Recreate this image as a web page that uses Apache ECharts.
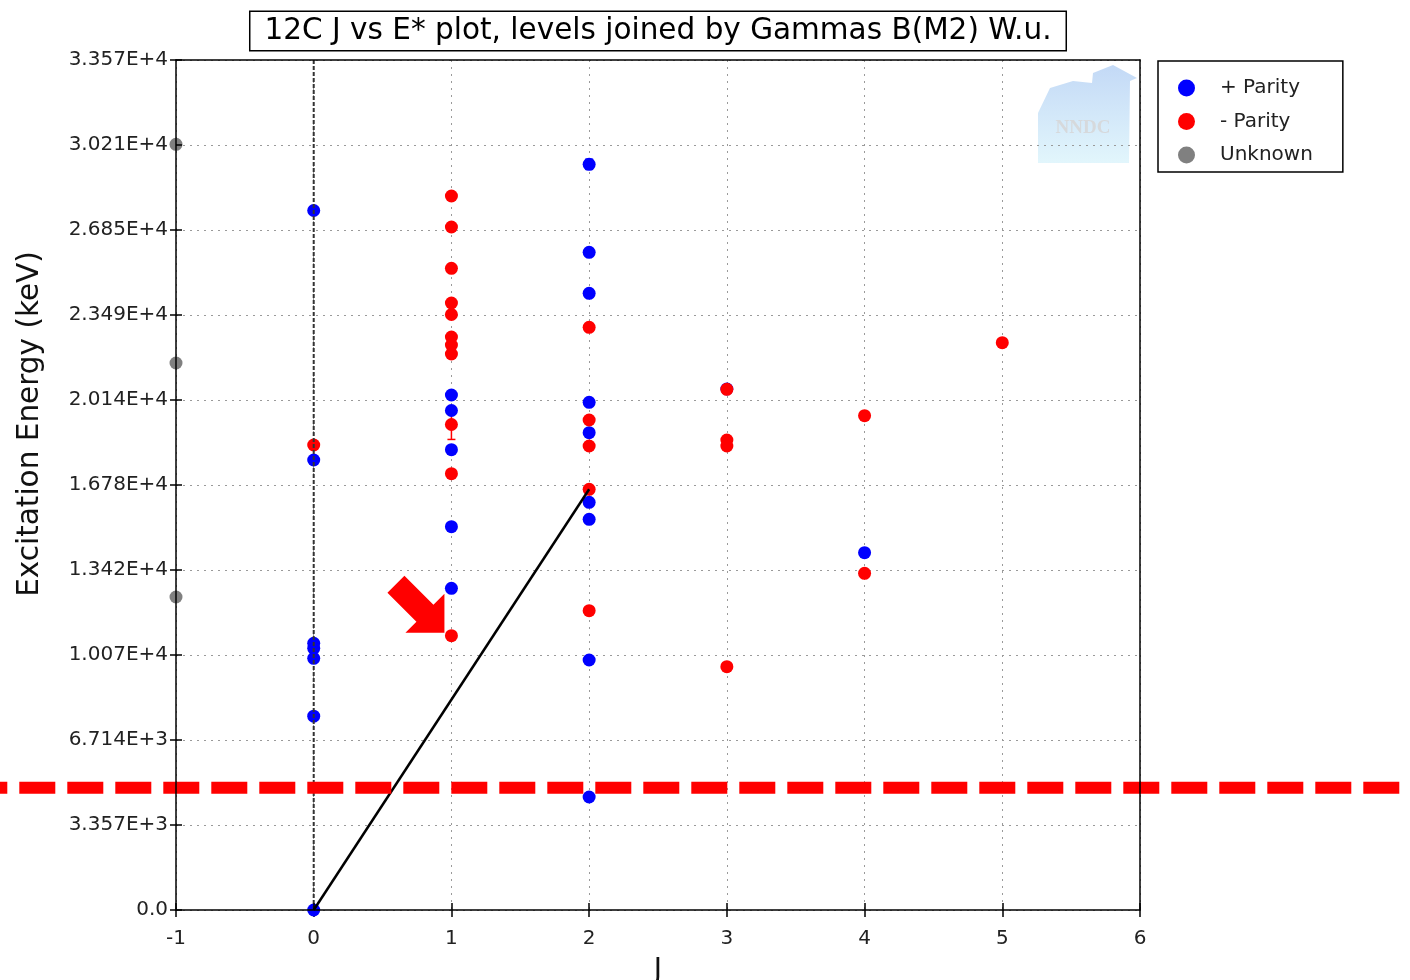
<!DOCTYPE html>
<html>
<head>
<meta charset="utf-8">
<title>12C J vs E* plot</title>
<script src="https://cdn.jsdelivr.net/npm/echarts@6/dist/echarts.min.js"></script>
<style>
  html, body { margin: 0; padding: 0; background: #fff; width: 1410px; height: 980px; overflow: hidden; }
  #chart { width: 1410px; height: 980px; }
</style>
</head>
<body>
<div id="chart"></div>
<script>
// Level scheme of 12C: spin J against excitation energy (keV)
const TITLE = '12C J vs E* plot, levels joined by Gammas B(M2) W.u.';

// positive-parity levels
const plusJ = [0, 0, 0, 0, 0, 0, 0, 1, 1, 1, 1, 1, 2, 2, 2, 2, 2, 2, 2, 2, 2, 3, 4];
const plusE = [0, 7654, 9941, 10336, 10533, 17772, 27626,
               20339, 19727, 18179, 15138, 12705,
               29450, 25975, 24356, 20051, 18851, 16102, 15430, 9874, 4463,
               20577, 14111];

// negative-parity levels
const minusJ = [0, 1, 1, 1, 1, 1, 1, 1, 1, 1, 1, 1, 2, 2, 2, 2, 2, 3, 3, 3, 3, 4, 4, 5];
const minusE = [18365,
                28199, 26974, 25343, 23973, 23519, 22630, 22315, 21959, 19174, 17231, 10833,
                23013, 19352, 18325, 16615, 11821,
                20565, 18562, 18325, 9609,
                19522, 13298,
                22405];

// levels with unknown J and parity
const unknownJ = [-1, -1, -1];
const unknownE = [30241, 21603, 12362];

// energy uncertainties drawn as error bars
const errJ = [1, 1, 2];
const errE = [19174, 26974, 29450];
const errDelta = [590, 120, 200];
const errParity = ['-', '-', '+'];

// M2 gamma joining two levels: [J, E] of initial and final level
const gammaFrom = [2, 16615];
const gammaTo = [0, 0];

// particle threshold marker (keV) and the level it points to
const thresholdE = 4830;
const markedLevel = [1, 10833];

// axis ticks
const yStep = 3357;
const yTickLabels = ['0.0', '3.357E+3', '6.714E+3', '1.007E+4', '1.342E+4', '1.678E+4',
                     '2.014E+4', '2.349E+4', '2.685E+4', '3.021E+4', '3.357E+4'];
const xMin = -1, xMax = 6;

const FONT = '"DejaVu Sans", sans-serif';
const BLUE = '#0000ff', RED = '#ff0000', GREY = '#808080';
const GRID = { left: 176, top: 60, width: 964, height: 850, outerBoundsMode: 'none', containLabel: false };

const pairs = (js, es) => js.map((j, i) => [j, es[i]]);

const chart = echarts.init(document.getElementById('chart'), null, { renderer: 'canvas', width: 1410, height: 980 });

const frameLine = { color: '#000', width: 1.5 };
const gridDots = { color: '#9a9a9a', width: 1, type: [2, 5] };
const dot = (color) => ({ color: color, opacity: 1 });
const yRange = { type: 'value', min: 0, max: yStep * 10, interval: yStep };
const xRange = { type: 'value', min: xMin, max: xMax, interval: 1 };

chart.setOption({
  backgroundColor: '#fff',
  animation: false,
  grid: GRID,
  legend: {
    orient: 'vertical',
    left: 1158,
    top: 61,
    data: ['+ Parity', '- Parity', 'Unknown'],
    icon: 'circle',
    itemWidth: 17,
    itemHeight: 17,
    itemGap: 13.5,
    padding: [17, 30, 7, 20],
    borderColor: '#000',
    borderWidth: 1.5,
    selectedMode: false,
    textStyle: { fontSize: 20, color: '#222', fontFamily: FONT, padding: [0, 0, 0, 20] }
  },
  xAxis: [
    {
      // labels, outer ticks and dotted grid, kept under the marks
      ...xRange, position: 'bottom', z: 0,
      axisLine: { show: false, onZero: false },
      axisTick: { show: true, length: 7, lineStyle: frameLine },
      axisLabel: { fontSize: 20, color: '#222', fontFamily: FONT, margin: 19 },
      splitLine: { show: true, lineStyle: gridDots },
      name: 'J', nameLocation: 'middle', nameGap: 47,
      nameTextStyle: { fontSize: 28, color: '#111', fontFamily: FONT }
    },
    {
      // frame line and inner ticks, drawn on top
      ...xRange, position: 'bottom', z: 20,
      axisLine: { show: true, onZero: false, lineStyle: frameLine },
      axisTick: { show: true, inside: true, length: 7, lineStyle: frameLine },
      axisLabel: { show: false }, splitLine: { show: false }
    },
    {
      ...xRange, position: 'top', z: 20,
      axisLine: { show: true, onZero: false, lineStyle: frameLine },
      axisTick: { show: false }, axisLabel: { show: false }, splitLine: { show: false }
    }
  ],
  yAxis: [
    {
      ...yRange, position: 'left', z: 0,
      axisLine: { show: false, onZero: false },
      axisTick: { show: true, length: 6, lineStyle: frameLine },
      axisLabel: {
        fontSize: 20, color: '#222', fontFamily: FONT, margin: 8,
        formatter: v => yTickLabels[Math.round(v / yStep)]
      },
      splitLine: { show: true, lineStyle: gridDots }
    },
    {
      ...yRange, position: 'left', z: 20,
      axisLine: { show: true, onZero: false, lineStyle: frameLine },
      axisTick: { show: true, inside: true, length: 6, lineStyle: frameLine },
      axisLabel: { show: false }, splitLine: { show: false }
    },
    {
      ...yRange, position: 'right', z: 20,
      axisLine: { show: true, onZero: false, lineStyle: frameLine },
      axisTick: { show: false }, axisLabel: { show: false }, splitLine: { show: false }
    }
  ],
  series: [
    {
      // J = 0 reference line
      name: 'J0', type: 'line', silent: true, symbol: 'none',
      data: [[0, 0], [0, yStep * 10]],
      lineStyle: { color: '#333', width: 2, type: [4, 2] }
    },
    {
      name: 'gamma', type: 'line', silent: true, symbol: 'none',
      data: [gammaTo, gammaFrom],
      lineStyle: { color: '#000', width: 2.5 }
    },
    {
      name: '+ Parity', type: 'scatter', symbol: 'circle', symbolSize: 13,
      itemStyle: dot(BLUE), data: pairs(plusJ, plusE)
    },
    {
      name: 'errors', type: 'custom', silent: true,
      data: errJ.map((j, i) => [j, errE[i], errDelta[i]]),
      renderItem: (params, api) => {
        const j = api.value(0), e = api.value(1), d = api.value(2);
        const hi = api.coord([j, e + d]);
        const lo = api.coord([j, e - d]);
        const color = errParity[params.dataIndex] === '+' ? BLUE : RED;
        const st = { stroke: color, lineWidth: 1.5 };
        return {
          type: 'group',
          children: [
            { type: 'line', shape: { x1: hi[0], y1: hi[1], x2: lo[0], y2: lo[1] }, style: st },
            { type: 'line', shape: { x1: hi[0] - 4, y1: hi[1], x2: hi[0] + 4, y2: hi[1] }, style: st },
            { type: 'line', shape: { x1: lo[0] - 4, y1: lo[1], x2: lo[0] + 4, y2: lo[1] }, style: st }
          ]
        };
      }
    },
    {
      name: '- Parity', type: 'scatter', symbol: 'circle', symbolSize: 13,
      itemStyle: dot(RED), data: pairs(minusJ, minusE)
    },
    {
      name: 'Unknown', type: 'scatter', symbol: 'circle', symbolSize: 13,
      itemStyle: dot(GREY), data: pairs(unknownJ, unknownE)
    }
  ]
});

// overlays placed from the axes' own scales
const yThr = chart.convertToPixel({ yAxisIndex: 0 }, thresholdE);
const lvl = chart.convertToPixel({ xAxisIndex: 0, yAxisIndex: 0 }, markedLevel);
const tip = [lvl[0] - 7, lvl[1] - 3];
const arrowRel = [[-40, -57], [-11, -28], [0, -39], [0, 0], [-39, 0], [-28, -11], [-57, -40]];

chart.setOption({
  graphic: [
    {
      // NNDC house logo
      type: 'group', z: -5, silent: true,
      children: [
        {
          type: 'polygon', z: -5,
          shape: { points: [[1038, 113], [1050, 88], [1073, 81], [1092, 83], [1093, 73], [1113, 65],
                            [1137, 78], [1130, 81], [1129, 163], [1038, 163]] },
          style: {
            fill: new echarts.graphic.LinearGradient(0, 0, 0, 1, [
              { offset: 0, color: '#c3d9f6' }, { offset: 1, color: '#e2f6fc' }
            ])
          }
        },
        {
          type: 'text', z: -4, x: 1083, y: 128,
          style: { text: 'NNDC', font: 'bold 19px "Liberation Serif", serif', fill: '#d6d9dc',
                   align: 'center', verticalAlign: 'middle' }
        }
      ]
    },
    {
      type: 'text', silent: true,
      x: GRID.left + GRID.width / 2, y: 31,
      style: {
        text: TITLE, font: '29.5px ' + FONT, fill: '#000',
        align: 'center', verticalAlign: 'middle',
        padding: [5, 14, 3, 14], borderColor: '#000', borderWidth: 1.5, backgroundColor: '#fff'
      }
    },
    {
      type: 'text', silent: true, x: 30, y: 424, rotation: Math.PI / 2,
      style: { text: 'Excitation Energy (keV)', font: '29.5px ' + FONT, fill: '#111',
               align: 'center', verticalAlign: 'middle' }
    },
    {
      type: 'line', silent: true, z: 10,
      shape: { x1: 0, y1: yThr, x2: 1400, y2: yThr },
      style: { stroke: RED, lineWidth: 12, lineDash: [36, 12], lineDashOffset: 28.7 }
    },
    {
      type: 'polygon', silent: true, z: 10,
      shape: { points: arrowRel.map(p => [tip[0] + p[0], tip[1] + p[1]]) },
      style: { fill: RED }
    }
  ]
});
</script>
</body>
</html>
